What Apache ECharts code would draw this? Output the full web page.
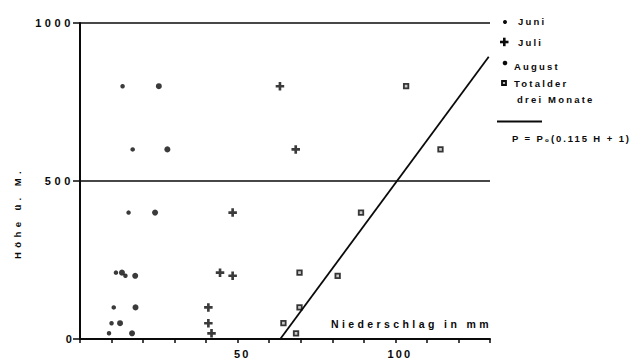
<!DOCTYPE html>
<html>
<head>
<meta charset="utf-8">
<script src="https://cdn.jsdelivr.net/npm/echarts@6/dist/echarts.min.js"></script>
<style>
  html, body { margin: 0; padding: 0; background: #fff; }
  #chart { width: 635px; height: 361px; }
  #chart text { letter-spacing: 2.2px; }
</style>
</head>
<body>
<div id="chart"></div>
<script>
// station heights (m) and monthly precipitation (mm)
const heights = [800, 600, 400, 210, 200, 100, 50, 18];
const juni = [13.5, 16.7, 15.4, 11.4, 14.4, 10.7, 10.0, 9.2];
const juli = [63.4, 68.4, 48.4, 44.4, 48.4, 40.7, 40.7, 41.7];
const august = [25.0, 27.7, 23.8, 13.3, 17.5, 17.6, 12.7, 16.5];
const total = [103.4, 114.3, 89.1, 69.6, 81.7, 69.6, 64.5, 68.5];

// regression line P = P0 (0.115 H + 1)
const lineX = [63.5, 129.6];
const lineH = [0, 893];

const xLabels = [50, 100];
const yLabels = [0, 500, 1000];

const ink = '#0a0a0a';
const font = 'Liberation Sans';
const pairs = (xs, ys) => xs.map((x, i) => [x, ys[i]]);
const plus = 'path://M3.1,0H5.9V3.1H9V5.9H5.9V9H3.1V5.9H0V3.1H3.1Z';

const chart = echarts.init(document.getElementById('chart'), null, { renderer: 'svg' });

const txt = (left, top, text, size) => ({
    type: 'text', left: left, top: top,
    style: { text: text, fill: ink, font: 'bold ' + (size || 10) + 'px "' + font + '"' }
});

chart.setOption({
    animation: false,
    backgroundColor: '#fff',
    grid: { left: 80, right: 145, top: 23, bottom: 22 },
    xAxis: {
        type: 'value',
        min: 0,
        max: 130,
        interval: 10,
        axisLine: { lineStyle: { color: ink, width: 2 } },
        axisTick: { length: 4, lineStyle: { color: ink, width: 1.5 } },
        axisLabel: {
            margin: 9,
            padding: [0, 0, 0, 9],
            color: ink,
            fontFamily: font,
            fontWeight: 'bold',
            fontSize: 11,
            formatter: v => xLabels.includes(v) ? String(v) : ''
        },
        splitLine: { show: false }
    },
    yAxis: {
        type: 'value',
        min: 0,
        max: 1000,
        interval: 500,
        axisLine: { show: true, lineStyle: { color: ink, width: 2 } },
        axisTick: { show: true, length: 7, lineStyle: { color: ink, width: 1.5 } },
        axisLabel: {
            margin: 6,
            color: ink,
            fontFamily: font,
            fontWeight: 'bold',
            fontSize: 11,
            formatter: v => yLabels.includes(v) ? String(v) : ''
        },
        splitLine: { show: true, lineStyle: { color: ink, width: 1.5 } }
    },
    series: [
        {
            name: 'Juni', type: 'scatter', symbol: 'circle', symbolSize: 4.5,
            itemStyle: { color: ink }, data: pairs(juni, heights)
        },
        {
            name: 'Juli', type: 'scatter', symbol: plus, symbolSize: 8.5,
            itemStyle: { color: ink }, data: pairs(juli, heights)
        },
        {
            name: 'August', type: 'scatter', symbol: 'circle', symbolSize: 6,
            itemStyle: { color: ink }, data: pairs(august, heights)
        },
        {
            name: 'Total', type: 'scatter', symbol: 'rect', symbolSize: 4.5,
            itemStyle: { color: '#bbb', borderColor: ink, borderWidth: 1.8 },
            data: pairs(total, heights)
        },
        {
            name: 'P', type: 'line', symbol: 'none',
            lineStyle: { color: ink, width: 1.8 },
            data: pairs(lineX, lineH)
        }
    ],
    graphic: [
        // legend
        { type: 'circle', shape: { cx: 505, cy: 22, r: 2 }, style: { fill: ink } },
        txt(518, 16, 'Juni', 9.5),
        { type: 'rect', shape: { x: 500, y: 40.7, width: 8.5, height: 2.6 }, style: { fill: ink } },
        { type: 'rect', shape: { x: 503, y: 37.7, width: 2.6, height: 8.5 }, style: { fill: ink } },
        txt(518, 37, 'Juli', 9.5),
        { type: 'circle', shape: { cx: 505, cy: 63, r: 2.3 }, style: { fill: ink } },
        txt(514, 61, 'August', 9.5),
        { type: 'rect', shape: { x: 502, y: 81, width: 4, height: 4 }, style: { fill: '#bbb', stroke: ink, lineWidth: 1.8 } },
        txt(514, 78, 'Totalder', 9.5),
        txt(517, 94, 'drei Monate', 9.5),
        { type: 'line', shape: { x1: 497, y1: 121.5, x2: 542, y2: 121.5 }, style: { stroke: ink, lineWidth: 1.8 } },
        txt(512, 133, 'P = P₀(0.115 H + 1)', 9.5),
        // axis titles
        txt(331, 318, 'Niederschlag in mm', 10.5),
        {
            type: 'text', x: 12, y: 259, rotation: Math.PI / 2,
            style: { text: 'Höhe ü. M.', fill: ink, font: 'bold 9.5px "' + font + '"' }
        }
    ]
});

// letter spacing of single texts, as in the print
document.querySelectorAll('#chart text').forEach(t => {
    const s = t.textContent;
    if (s === 'Niederschlag in mm') t.style.letterSpacing = '3.4px';
    if (s === 'Höhe ü. M.') t.style.letterSpacing = '4.4px';
    if (s.indexOf('0.115') >= 0) t.style.letterSpacing = '1.9px';
    if (s === '1000' || s === '500') t.style.letterSpacing = '3.6px';
});
</script>
</body>
</html>
